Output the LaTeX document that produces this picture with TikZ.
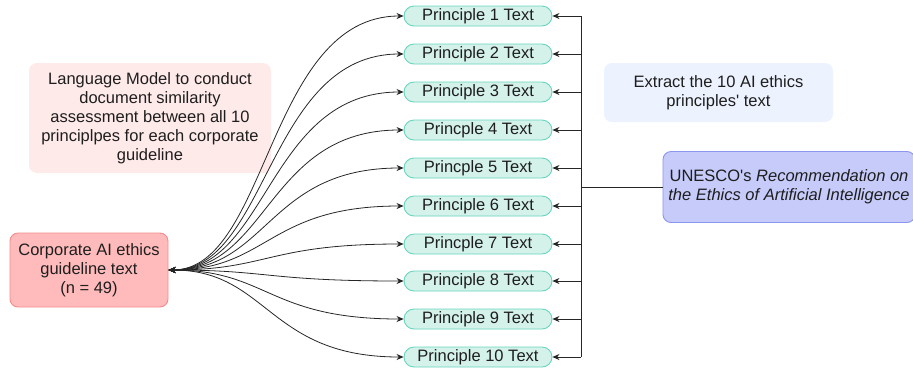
\documentclass[tikz,border=0pt]{standalone}
\usepackage{fontspec}
\setmainfont{Liberation Sans}
\usetikzlibrary{arrows.meta}
\definecolor{pfill}{RGB}{212,241,234}
\definecolor{pdraw}{RGB}{102,214,190}
\definecolor{cfill}{RGB}{255,187,187}
\definecolor{cdraw}{RGB}{242,140,140}
\definecolor{lmfill}{RGB}{255,234,234}
\definecolor{exfill}{RGB}{236,242,254}
\definecolor{ufill}{RGB}{198,203,250}
\definecolor{udraw}{RGB}{140,150,240}
\definecolor{tx}{RGB}{30,30,30}
\tikzset{
  base/.style={font=\fontsize{16.5}{19}\selectfont, text=tx, align=center, inner sep=0pt},
  pbox/.style={base, draw=pdraw, fill=pfill, line width=0.9pt, rounded corners=10pt, minimum width=148pt, minimum height=20pt},
  cbox/.style={base, draw=cdraw, fill=cfill, line width=0.9pt, rounded corners=8pt, minimum width=158pt, minimum height=74pt},
  lmbox/.style={base, fill=lmfill, rounded corners=8pt, minimum width=242pt, minimum height=110pt},
  exbox/.style={base, fill=exfill, rounded corners=8pt, minimum width=229pt, minimum height=59pt},
  ubox/.style={base, draw=udraw, fill=ufill, line width=0.9pt, rounded corners=8pt, minimum width=252pt, minimum height=71pt},
  conn/.style={draw=black!85, line width=0.8pt},
  tip/.style={-{Stealth[length=7pt,width=6pt]}},
}
\begin{document}
\begin{tikzpicture}[x=1pt,y=-1pt]
\useasboundingbox (0,0) rectangle (913,368);
% left boxes
\node[lmbox] (lm) at (150,118) {Language Model to conduct\\document similarity\\assessment between all 10\\principlpes for each corporate\\guideline};
\node[cbox] (corp) at (89,270) {Corporate AI ethics\\guideline text\\(n = 49)};
\node[exbox] (ex) at (718.5,92.5) {Extract the 10 AI ethics\\principles\textquotesingle\ text};
\node[ubox] (un) at (789,187) {UNESCO\textquotesingle s \textit{Recommendation on}\\\textit{the Ethics of Artificial Intelligence}};
% principle boxes
\foreach \i/\y/\t in {1/16/Principle 1 Text,2/54/Principle 2 Text,3/92/Principle 3 Text,4/130/Princple 4 Text,5/168/Princple 5 Text,6/206/Principle 6 Text,7/244/Princple 7 Text,8/281/Principle 8 Text,9/319/Principle 9 Text,10/357/Principle 10 Text}{
  \node[pbox] (p\i) at (478,\y) {\t};
  \coordinate (b\i) at (581,\y);
}
\coordinate (bu) at (581,187);
% bus
\draw[conn] (b1) -- (b10);
\draw[conn] (un.west) -- (bu);
\foreach \i in {1,...,10}{
  \draw[conn,tip] (b\i) -- (p\i.east);
  \draw[conn,{Stealth[length=7pt,width=6pt]}-{Stealth[length=7pt,width=6pt]}] (corp.east) .. controls +(100,0) and +(-136,0) .. (p\i.west);
}
\end{tikzpicture}
\end{document}
